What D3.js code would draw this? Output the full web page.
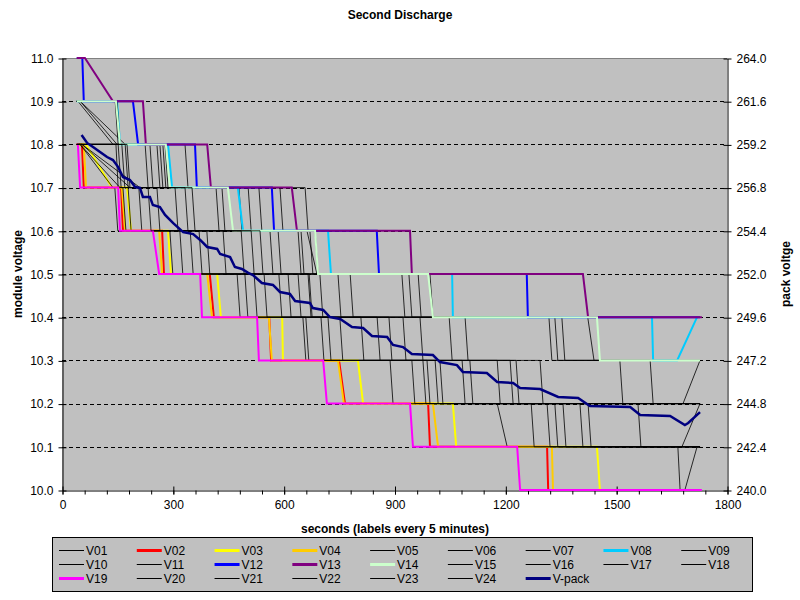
<!DOCTYPE html>
<meta charset="utf-8">
<script src="https://d3js.org/d3.v7.min.js"></script>
<body style="margin:0;background:#fff">
<svg width="800" height="600"></svg>
<script>
// module readings: [seconds, volts]
var V01 = [[40,10.8],[225,10.8],[233,10.7],[417,10.7],[425,10.6],[563,10.6],[571,10.5],[698,10.5],[706,10.4],[969,10.4],[977,10.3],[1213,10.3],[1221,10.2],[1727,10.2]];
var V02 = [[40,10.8],[54,10.8],[59,10.7],[160,10.7],[165,10.6],[271,10.6],[276,10.5],[400,10.5],[411,10.4],[561,10.4],[566,10.3],[750,10.3],[766,10.2],[991,10.2],[996,10.1],[1313,10.1],[1316,10.0],[1727,10.0]];
var V03 = [[40,10.8],[65,10.8],[135,10.7],[176,10.7],[187,10.6],[287,10.6],[295,10.5],[420,10.5],[430,10.4],[596,10.4],[598,10.3],[801,10.3],[815,10.2],[1058,10.2],[1067,10.1],[1448,10.1],[1456,10.0],[1727,10.0]];
var V04 = [[40,10.8],[59,10.8],[65,10.7],[162,10.7],[171,10.6],[263,10.6],[271,10.5],[393,10.5],[406,10.4],[560,10.4],[568,10.3],[747,10.3],[763,10.2],[1004,10.2],[1018,10.1],[1326,10.1],[1329,10.0],[1727,10.0]];
var V05 = [[40,10.8],[238,10.8],[246,10.7],[433,10.7],[441,10.6],[585,10.6],[593,10.5],[747,10.5],[755,10.4],[1048,10.4],[1056,10.3],[1229,10.3],[1237,10.2],[1727,10.2]];
var V06 = [[40,10.9],[43,10.9],[138,10.8],[257,10.8],[265,10.7],[479,10.7],[487,10.6],[639,10.6],[647,10.5],[780,10.5],[788,10.4],[1091,10.4],[1099,10.3],[1294,10.3],[1302,10.2],[1727,10.2]];
var V07 = [[40,10.9],[49,10.9],[149,10.8],[265,10.8],[273,10.7],[504,10.7],[512,10.6],[647,10.6],[655,10.5],[920,10.5],[928,10.4],[1318,10.4],[1326,10.3],[1510,10.3],[1518,10.2],[1727,10.2]];
var V08 = [[40,10.9],[149,10.9],[157,10.8],[287,10.8],[298,10.7],[476,10.7],[490,10.6],[720,10.6],[728,10.5],[1056,10.5],[1058,10.4],[1597,10.4],[1600,10.3],[1665,10.3],[1719,10.4]];
var V09 = [[40,10.9],[144,10.9],[152,10.8],[273,10.8],[281,10.7],[533,10.7],[541,10.6],[663,10.6],[690,10.5],[939,10.5],[947,10.4],[1334,10.4],[1342,10.3],[1592,10.3],[1600,10.2],[1681,10.2],[1727,10.3]];
var V10 = [[40,10.9],[149,10.9],[157,10.8],[279,10.8],[287,10.7],[590,10.7],[598,10.6],[671,10.6],[679,10.5],[964,10.5],[972,10.4],[1353,10.4],[1361,10.3],[1727,10.3]];
var V11 = [[40,10.9],[49,10.9],[171,10.8],[333,10.8],[341,10.7],[658,10.7],[666,10.6],[685,10.6],[693,10.5],[996,10.5],[1004,10.4],[1423,10.4],[1440,10.3],[1727,10.3]];
var V12 = [[40,11.0],[55,11.0],[59,10.9],[192,10.9],[206,10.8],[360,10.8],[365,10.7],[568,10.7],[574,10.6],[852,10.6],[858,10.5],[1258,10.5],[1261,10.4],[1727,10.4]];
var V13 = [[40,11.0],[62,11.0],[138,10.9],[219,10.9],[227,10.8],[393,10.8],[403,10.7],[622,10.7],[636,10.6],[942,10.6],[947,10.5],[1410,10.5],[1424,10.4],[1732,10.4]];
var V14 = [[40,10.9],[146,10.9],[157,10.8],[281,10.8],[292,10.7],[449,10.7],[463,10.6],[685,10.6],[693,10.5],[991,10.5],[1004,10.4],[1448,10.4],[1456,10.3],[1727,10.3]];
var V15 = [[40,10.8],[49,10.8],[138,10.7],[143,10.7],[151,10.6],[292,10.6],[300,10.5],[474,10.5],[482,10.4],[652,10.4],[660,10.3],[888,10.3],[896,10.2],[1178,10.2],[1205,10.1],[1667,10.1],[1673,10.0],[1686,10.0],[1719,10.1],[1727,10.1]];
var V16 = [[40,10.8],[49,10.8],[157,10.7],[165,10.7],[173,10.6],[319,10.6],[327,10.5],[495,10.5],[503,10.4],[660,10.4],[668,10.3],[947,10.3],[955,10.2],[1270,10.2],[1278,10.1],[1727,10.1]];
var V17 = [[40,10.8],[146,10.8],[152,10.7],[179,10.7],[187,10.6],[347,10.6],[355,10.5],[520,10.5],[528,10.4],[701,10.4],[709,10.3],[977,10.3],[985,10.2],[1313,10.2],[1321,10.1],[1727,10.1]];
var V18 = [[40,10.8],[54,10.8],[184,10.7],[208,10.7],[216,10.6],[371,10.6],[379,10.5],[547,10.5],[555,10.4],[720,10.4],[728,10.3],[988,10.3],[996,10.2],[1334,10.2],[1342,10.1],[1727,10.1]];
var V19 = [[40,10.8],[43,10.8],[49,10.7],[152,10.7],[157,10.6],[246,10.6],[263,10.5],[374,10.5],[379,10.4],[528,10.4],[533,10.3],[707,10.3],[717,10.2],[942,10.2],[950,10.1],[1232,10.1],[1240,10.0],[1732,10.0]];
var V20 = [[40,10.8],[152,10.8],[160,10.7],[233,10.7],[241,10.6],[392,10.6],[400,10.5],[587,10.5],[595,10.4],[752,10.4],[760,10.3],[1010,10.3],[1018,10.2],[1356,10.2],[1364,10.1],[1727,10.1]];
var V21 = [[40,10.8],[162,10.8],[170,10.7],[257,10.7],[265,10.6],[436,10.6],[444,10.5],[612,10.5],[620,10.4],[809,10.4],[817,10.3],[1023,10.3],[1031,10.2],[1402,10.2],[1410,10.1],[1727,10.1]];
var V22 = [[40,10.8],[171,10.8],[179,10.7],[306,10.7],[314,10.6],[485,10.6],[493,10.5],[639,10.5],[647,10.4],[853,10.4],[861,10.3],[1083,10.3],[1091,10.2],[1424,10.2],[1432,10.1],[1727,10.1]];
var V23 = [[40,10.8],[176,10.8],[184,10.7],[333,10.7],[341,10.6],[512,10.6],[520,10.5],[666,10.5],[674,10.4],[885,10.4],[893,10.3],[1104,10.3],[1112,10.2],[1559,10.2],[1567,10.1],[1678,10.1],[1727,10.2]];
var V24 = [[40,10.8],[54,10.8],[211,10.7],[352,10.7],[360,10.6],[536,10.6],[544,10.5],[669,10.5],[677,10.4],[923,10.4],[931,10.3],[1178,10.3],[1186,10.2],[1727,10.2]];
// pack reading, right axis: [seconds, volts]
var Vpack = [[53,259.72],[68,259.28],[84,259.06],[103,258.78],[122,258.5],[138,258.33],[152,257.94],[165,257.39],[184,257.22],[198,256.83],[211,256.78],[219,256.28],[238,256.28],[246,255.83],[265,255.72],[279,255.28],[301,254.83],[328,254.33],[355,254.22],[374,253.89],[393,253.5],[420,253.39],[428,253.11],[455,252.94],[468,252.39],[487,252.28],[504,252.06],[517,251.94],[541,251.5],[571,251.39],[590,251.0],[617,250.89],[631,250.5],[671,250.39],[679,250.11],[707,250.0],[725,249.61],[753,249.5],[785,249.06],[815,249.0],[839,248.56],[880,248.5],[896,248.06],[923,247.94],[947,247.56],[1004,247.5],[1023,247.11],[1069,246.94],[1085,246.56],[1150,246.5],[1178,246.0],[1221,245.94],[1240,245.67],[1294,245.61],[1343,245.17],[1397,245.11],[1429,244.67],[1538,244.61],[1565,244.17],[1646,244.11],[1686,243.61],[1695,243.72],[1727,244.33]];

var moduleNames = ["V01","V02","V03","V04","V05","V06","V07","V08","V09","V10","V11","V12","V13","V14","V15","V16","V17","V18","V19","V20","V21","V22","V23","V24"];
var moduleData  = [V01,V02,V03,V04,V05,V06,V07,V08,V09,V10,V11,V12,V13,V14,V15,V16,V17,V18,V19,V20,V21,V22,V23,V24];
var moduleColors = ["#000","#ff0000","#ffff00","#ffcc00","#000","#000","#000","#00ccff","#000","#000","#000","#0000ff","#800080","#ccffcc","#000","#000","#000","#000","#ff00ff","#000","#000","#000","#000","#000"];
var packColor = "#000080";

var leftTicks  = [10.0,10.1,10.2,10.3,10.4,10.5,10.6,10.7,10.8,10.9,11.0];
var rightTicks = [240.0,242.4,244.8,247.2,249.6,252.0,254.4,256.8,259.2,261.6,264.0];
var xTicks     = [0,300,600,900,1200,1500,1800];
var xMinor     = d3.range(0, 1801, 60);

var L = 62, R = 727, T = 58, B = 490;
var svg = d3.select('svg').style('font-family','"Liberation Sans", Arial, sans-serif');
var x  = d3.scaleLinear().domain([0,1800]).range([L,R]);
var y  = d3.scaleLinear().domain([10,11]).range([B,T]);
var y2 = d3.scaleLinear().domain([240,264]).range([B,T]);

svg.append('rect').attr('x',L).attr('y',T).attr('width',R-L).attr('height',B-T).attr('fill','#c0c0c0');

// gridlines
svg.append('g').selectAll('line').data(leftTicks.slice(1,-1)).enter().append('line')
    .attr('x1',L).attr('x2',R)
    .attr('y1',function(d){ return Math.round(y(d))+0.5; })
    .attr('y2',function(d){ return Math.round(y(d))+0.5; })
    .attr('stroke','#000').attr('stroke-dasharray','4,3');
svg.append('line').attr('x1',L).attr('x2',R).attr('y1',T+0.5).attr('y2',T+0.5).attr('stroke','#808080');

// axes
var gl = svg.append('g').attr('transform','translate('+(L+0.5)+',0.5)')
    .call(d3.axisLeft(y).tickValues(leftTicks).tickFormat(d3.format('.1f')).tickSizeInner(4).tickSizeOuter(0));
var gr = svg.append('g').attr('transform','translate('+(R+0.5)+',0.5)')
    .call(d3.axisRight(y2).tickValues(rightTicks).tickFormat(d3.format('.1f')).tickSizeInner(4).tickSizeOuter(0));
var gb = svg.append('g').attr('transform','translate(0.5,'+(B+0.5)+')')
    .call(d3.axisBottom(x).tickValues(xTicks).tickFormat(d3.format('d')).tickSizeInner(4).tickSizeOuter(0));
svg.append('g').attr('transform','translate(0.5,'+(B+0.5)+')')
    .call(d3.axisBottom(x).tickValues(xMinor).tickFormat('').tickSizeInner(4).tickSizeOuter(0))
    .select('.domain').remove();
[gl,gr,gb].forEach(function(g){
    g.selectAll('text').attr('font-size',12).attr('fill','#000').attr('font-family','"Liberation Sans", Arial, sans-serif');
    g.selectAll('path,line').attr('stroke','#000');
});
gl.selectAll('.tick line').attr('x1',4);
gr.selectAll('.tick line').attr('x1',-4);
gb.selectAll('.tick line').attr('y1',-4);
gl.selectAll('.tick text').attr('x',-9);
gr.selectAll('.tick text').attr('x',9);
gb.selectAll('.tick text').attr('y',10);

// series
var line = d3.line().x(function(d){ return x(d[0]); }).y(function(d){ return y(d[1]); });
var line2 = d3.line().x(function(d){ return x(d[0]); }).y(function(d){ return y2(d[1]); });
svg.append('g').selectAll('path').data(moduleData).enter().append('path')
    .attr('fill','none')
    .attr('stroke',function(d,i){ return moduleColors[i]; })
    .attr('stroke-width',function(d,i){ return moduleColors[i]==='#000' ? 1 : 2; })
    .attr('stroke-opacity',function(d,i){ return moduleColors[i]==='#000' ? 0.8 : 1; })
    .attr('d',line);
svg.append('path').datum(Vpack).attr('fill','none').attr('stroke',packColor).attr('stroke-width',2.5).attr('d',line2);

// titles
svg.append('text').attr('x',400).attr('y',19).attr('text-anchor','middle').attr('font-size',12).attr('font-weight','bold').text('Second Discharge');
svg.append('text').attr('x',395).attr('y',533).attr('text-anchor','middle').attr('font-size',12).attr('font-weight','bold').text('seconds (labels every 5 minutes)');
svg.append('text').attr('transform','translate(22,274) rotate(-90)').attr('text-anchor','middle').attr('font-size',12).attr('font-weight','bold').text('module voltage');
svg.append('text').attr('transform','translate(790,274) rotate(-90)').attr('text-anchor','middle').attr('font-size',12).attr('font-weight','bold').text('pack voltge');

// legend
var legNames  = moduleNames.concat(['V-pack']);
var legColors = moduleColors.concat([packColor]);
svg.append('rect').attr('x',52.5).attr('y',537.5).attr('width',700).attr('height',54).attr('fill','#c0c0c0').attr('stroke','#000');
var colW = 700/9;
var leg = svg.append('g').selectAll('g').data(legNames).enter().append('g')
    .attr('transform',function(d,i){ return 'translate('+(59+(i%9)*colW)+','+(550+Math.floor(i/9)*14)+')'; });
leg.append('line').attr('x1',0).attr('x2',25).attr('y1',0.5).attr('y2',0.5)
    .attr('stroke',function(d,i){ return legColors[i]; })
    .attr('stroke-width',function(d,i){ return legColors[i]==='#000' ? 1 : 3; });
leg.append('text').attr('x',27).attr('y',4.5).attr('font-size',12).text(function(d){ return d; });
</script>
</body>
